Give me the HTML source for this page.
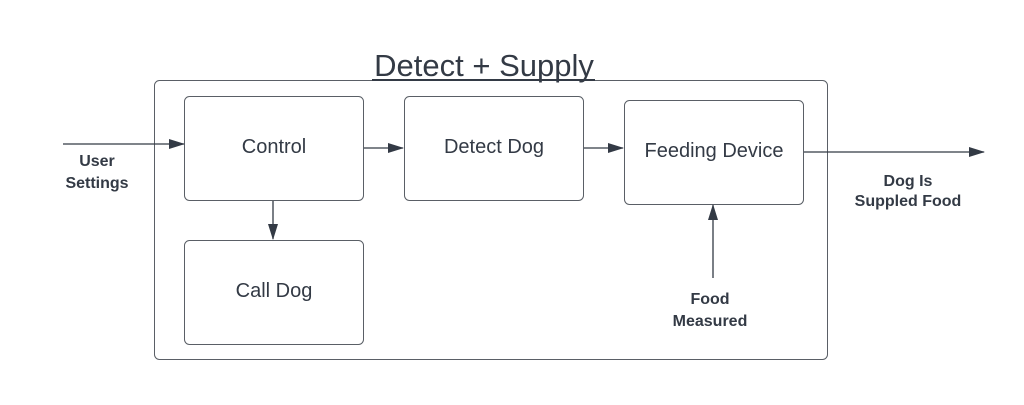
<!DOCTYPE html>
<html><head><style>html,body{margin:0;padding:0;background:#fff}</style></head>
<body>
<svg width="1024" height="400" xmlns="http://www.w3.org/2000/svg" font-family="Liberation Sans, sans-serif">
<defs><marker id="a" markerWidth="16" markerHeight="12" refX="15" refY="6" orient="auto" markerUnits="userSpaceOnUse"><path d="M0,1 L16,6 L0,11 z" fill="#333a45"/></marker></defs>
<g fill="#fff" stroke="#5a5f66" stroke-width="1">
<rect x="154.5" y="80.5" width="673" height="279" rx="5"/>
<rect x="184.5" y="96.5" width="179" height="104" rx="5"/>
<rect x="404.5" y="96.5" width="179" height="104" rx="5"/>
<rect x="624.5" y="100.5" width="179" height="104" rx="5"/>
<rect x="184.5" y="240.5" width="179" height="104" rx="5"/>
</g>
<text x="484" y="76" font-size="31" fill="#333a45" text-anchor="middle">Detect + Supply</text>
<line x1="372" y1="80" x2="595" y2="80" stroke="#333a45" stroke-width="2"/>
<g fill="#333a45" font-size="20" text-anchor="middle">
<text x="274" y="153">Control</text>
<text x="494" y="153">Detect Dog</text>
<text x="714" y="157">Feeding Device</text>
<text x="274" y="297">Call Dog</text>
</g>
<g fill="#333a45" font-size="16" font-weight="bold" text-anchor="middle">
<text x="97" y="166">User</text><text x="97" y="188">Settings</text>
<text x="908" y="186">Dog Is</text><text x="908" y="206">Suppled Food</text>
<text x="710" y="304">Food</text><text x="710" y="326">Measured</text>
</g>
<g stroke="#333a45" stroke-width="1.3" marker-end="url(#a)">
<line x1="63" y1="144" x2="184" y2="144"/>
<line x1="364" y1="148" x2="403" y2="148"/>
<line x1="584" y1="148" x2="623" y2="148"/>
<line x1="804" y1="152" x2="984" y2="152"/>
<line x1="273" y1="201" x2="273" y2="239"/>
<line x1="713" y1="278" x2="713" y2="205"/>
</g>
</svg>
</body></html>
